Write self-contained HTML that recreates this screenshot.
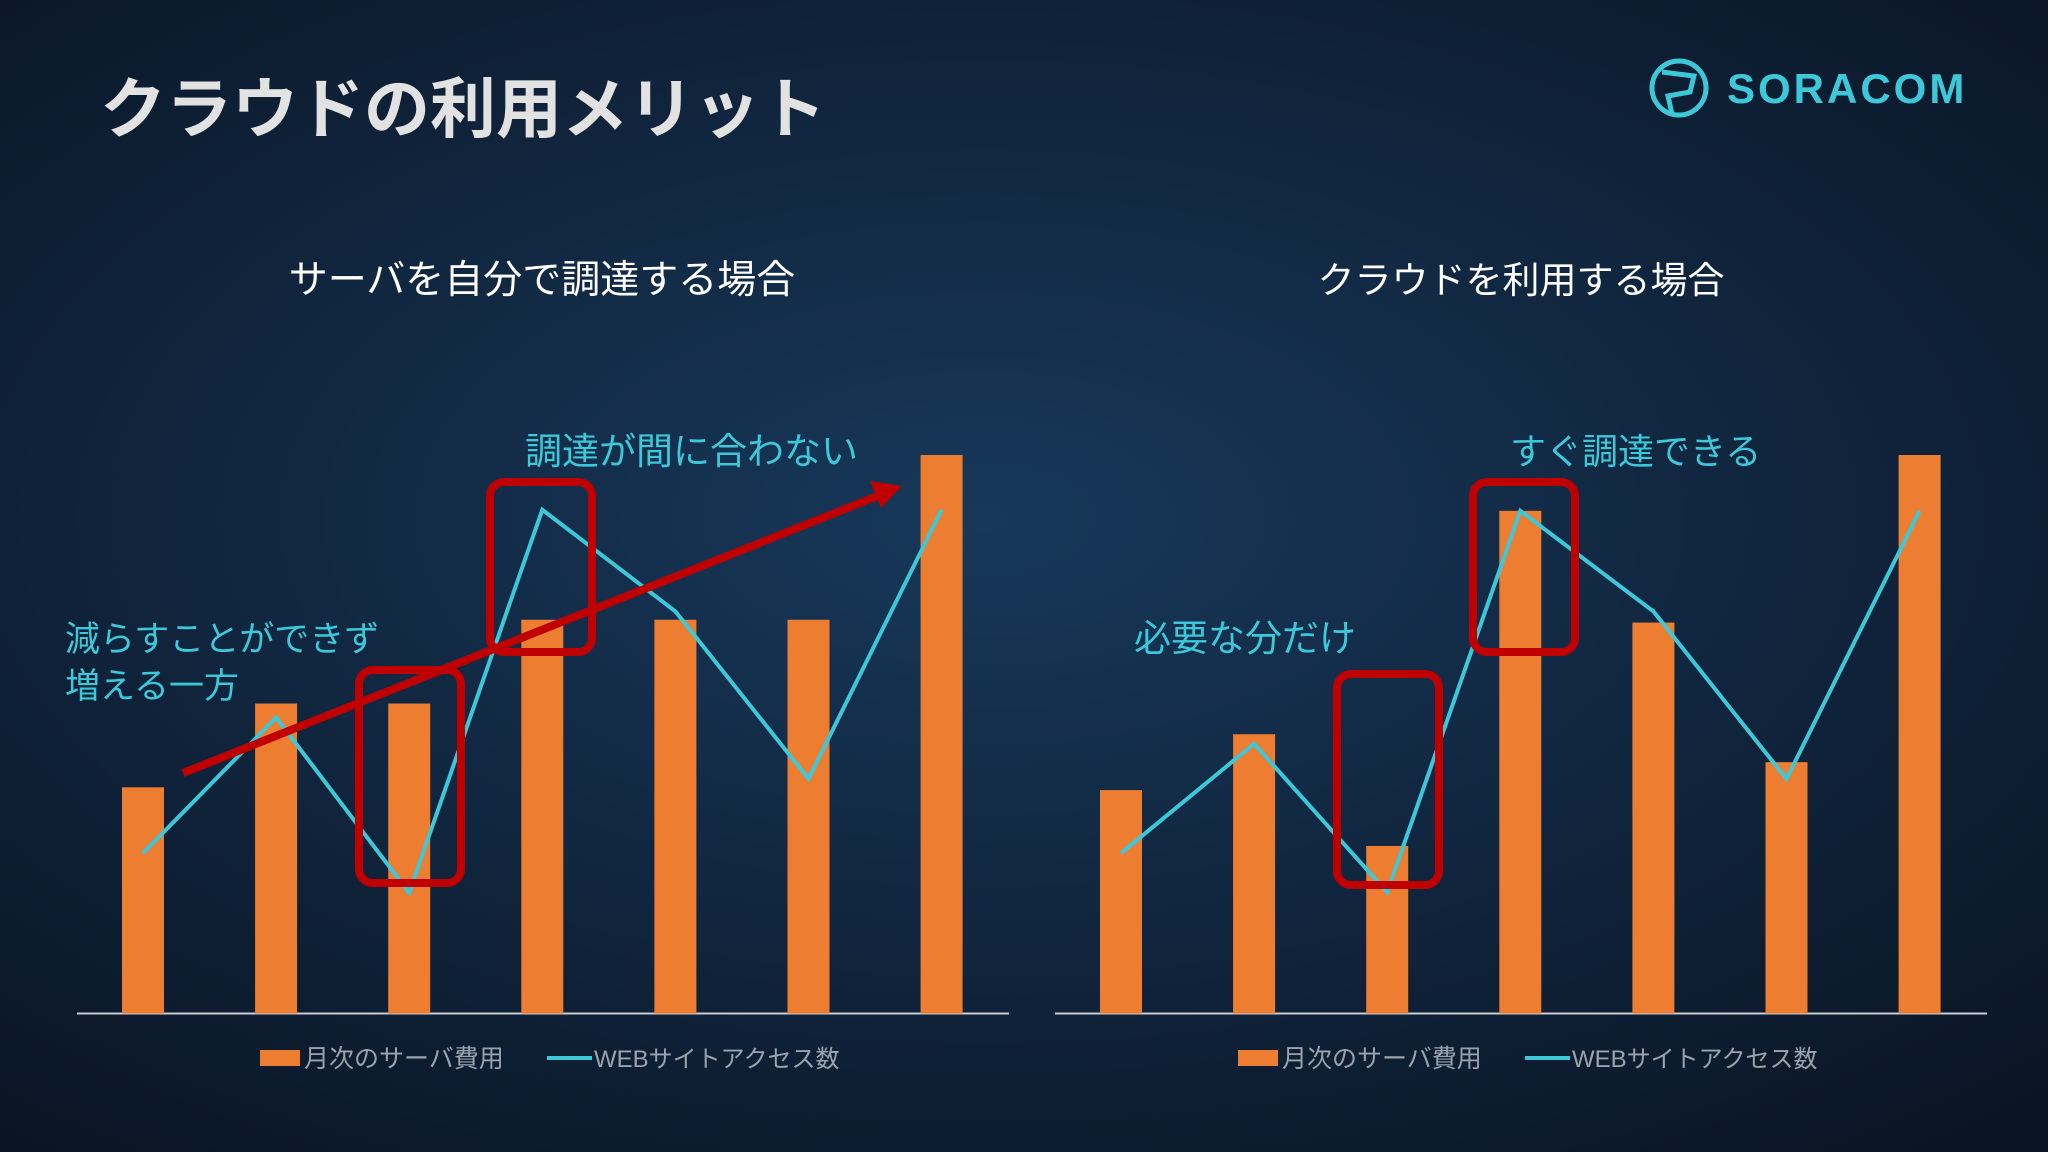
<!DOCTYPE html>
<html><head><meta charset="utf-8"><style>
html,body{margin:0;padding:0;}
body{width:2048px;height:1152px;overflow:hidden;background:radial-gradient(ellipse 75% 70% at 48% 45%,#17385a 0%,#10243c 55%,#0a1524 100%);font-family:"Liberation Sans","Noto Sans CJK JP",sans-serif;}
svg{position:absolute;left:0;top:0;}
</style></head><body>
<svg id="chart" width="2048" height="1152">
<text x="100" y="132" font-size="66" font-weight="bold" fill="#e2e2e2">クラウドの利用メリット</text>
<g>
<circle cx="1679" cy="88" r="27" fill="none" stroke="#3cc8d8" stroke-width="5"/>
<path d="M1662 72 L1694 76 L1690 92 L1668 96 L1672 114" fill="none" stroke="#3cc8d8" stroke-width="5"/>
<text x="1727" y="103" font-size="42" font-weight="bold" letter-spacing="3" fill="#3cc8d8">SORACOM</text>
</g>
<text x="542" y="293" font-size="39" fill="#ffffff" text-anchor="middle">サーバを自分で調達する場合</text>
<text x="1521" y="293" font-size="37" fill="#ffffff" text-anchor="middle">クラウドを利用する場合</text>
<g id="left"></g>
<g id="right"></g>
<g>
<text x="525" y="464" font-size="37" fill="#3cc8d8">調達が間に合わない</text>
<text x="65" y="651" font-size="35" fill="#3cc8d8">減らすことができず</text>
<text x="65" y="698" font-size="35" fill="#3cc8d8">増える一方</text>
<text x="1510" y="464" font-size="36" fill="#3cc8d8">すぐ調達できる</text>
<text x="1134" y="651" font-size="37" fill="#3cc8d8">必要な分だけ</text>
<rect x="359" y="670" width="102" height="213" rx="14" fill="none" stroke="#c00000" stroke-width="8"/>
<rect x="490" y="482" width="102" height="170" rx="14" fill="none" stroke="#c00000" stroke-width="8"/>
<rect x="1337" y="674" width="102" height="211" rx="14" fill="none" stroke="#c00000" stroke-width="8"/>
<rect x="1473" y="482" width="102" height="170" rx="14" fill="none" stroke="#c00000" stroke-width="8"/>
<line x1="183" y1="773" x2="880" y2="495" stroke="#c00000" stroke-width="8"/>
<polygon points="902,486 870,481 881,508" fill="#c00000"/>
</g>
</svg>
<script>
const categories = ["1","2","3","4","5","6","7"];
const leftCost = [40.5, 55.5, 55.5, 70.5, 70.5, 70.5, 100];
const leftAccess = [28.7, 53, 21.6, 90.2, 72, 42, 90.2];
const rightCost = [40, 50, 30, 90, 70, 45, 100];
const rightAccess = [28.7, 48.3, 21.7, 90, 72, 42, 90];
const legendLabels = ["月次のサーバ費用","WEBサイトアクセス数"];
const NS = "http://www.w3.org/2000/svg";
const baseY = 1013.5, topY = 455, vmax = 100;
function yScale(v){ return baseY - (v / vmax) * (baseY - topY); }
function mk(tag, attrs, parent){ const e=document.createElementNS(NS,tag); for(const k in attrs) e.setAttribute(k,attrs[k]); parent.appendChild(e); return e; }
function draw(gid, x0, cost, access, side){
  const g = document.getElementById(gid);
  
  
  const step = 133.1, first = x0 + 66, bw = 42;
  function xScale(i){ return first + i * step; }
  const ax = mk('line',{x1:x0,x2:x0+932,y1:baseY,y2:baseY,stroke:'#c8ccd4','stroke-width':2},g);
  
  
  cost.forEach((v,i)=>{
    const r = mk('rect',{x:xScale(i)-bw/2,y:yScale(v),width:bw,height:baseY-yScale(v),fill:'#ed7d31'},g);
    
    
  });
  const pts = access.map((v,i)=>xScale(i)+','+yScale(v)).join(' ');
  const pl = mk('polyline',{points:pts,fill:'none',stroke:'#3cc8d8','stroke-width':4,'stroke-linejoin':'miter'},g);
  
  
  const lg = mk('g',{},g);
  
  
  const ly = 1058;
  const sw = mk('rect',{x:x0+183,y:ly-8,width:40,height:16,fill:'#ed7d31'},lg);
  
  
  const t1 = mk('text',{x:x0+227,y:ly+9,'font-size':25,fill:'#9aa3ad'},lg);
  t1.textContent = legendLabels[0];
  
  
  const sl = mk('line',{x1:x0+470,x2:x0+515,y1:ly,y2:ly,stroke:'#3cc8d8','stroke-width':4},lg);
  
  
  const t2 = mk('text',{x:x0+517,y:ly+9,'font-size':24,fill:'#9aa3ad'},lg);
  t2.textContent = legendLabels[1];
  
  
}
draw('left', 77, leftCost, leftAccess, 'left');
draw('right', 1055, rightCost, rightAccess, 'right');
</script>
</body></html>
